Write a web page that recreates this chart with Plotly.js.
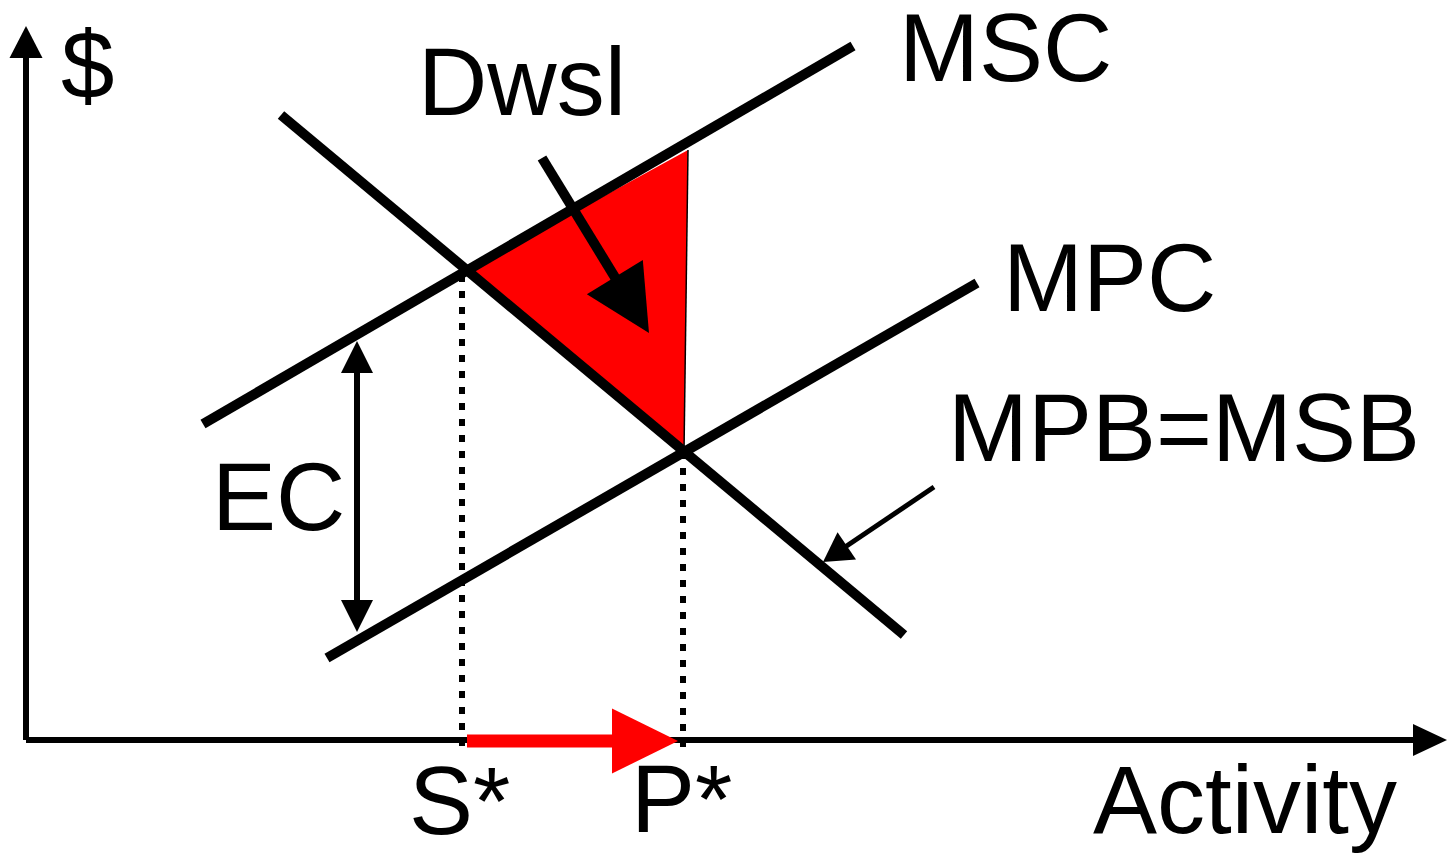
<!DOCTYPE html>
<html>
<head>
<meta charset="utf-8">
<script src="https://cdn.plot.ly/plotly-3.0.1.min.js"></script>
<style>
  html, body { margin: 0; padding: 0; background: #fff; }
  #chart { width: 1453px; height: 859px; }
</style>
</head>
<body>
<div id="chart"></div>
<script>
// curve endpoints (origin = axis corner, y up)
const mscX = [177, 827];
const mscY = [316, 694];
const mpcX = [301, 951];
const mpcY = [82, 457];
const mpbX = [255, 878];
const mpbY = [625, 105];

// deadweight-loss triangle
const dwlX = [441, 662, 658];
const dwlY = [469, 590, 288];

// equilibria on the activity axis
const sStarX = 436, sStarY = 465;
const pStarX = 657, pStarY = 288;

// arrows: [tailX, tailY, tipX, tipY]
const yAxisArrow = [0, 0, 0, 714];
const xAxisArrow = [0, 0, 1421, 0];
const shiftArrow = [441, -1, 652, -1];
const dwslArrow = [516, 582, 623, 407];
const ecArrow = [331, 254, 331, 399];   // double headed, tips at 399 and 108
const ecLow = 108;
const mpbArrow = [908, 253, 797, 178];

const labels = ['$', 'MSC', 'Dwsl', 'MPC', 'MPB=MSB', 'EC', 'S*', 'P*', 'Activity'];
const labelX = [61, 979.5, 495.5, 1083, 1158, 252.5, 433, 655, 1219];
const labelY = [676, 693, 659, 463, 313, 244, -60, -58, -59];

const BLACK = '#000';
const RED = '#ff0000';

function line(x, y, width, color, dash) {
  return {
    x: x, y: y, type: 'scatter', mode: 'lines',
    line: { color: color, width: width, dash: dash || 'solid' },
    hoverinfo: 'skip', showlegend: false,
  };
}

function tri(x, y, color) {
  return {
    x: x.concat(x[0]), y: y.concat(y[0]), type: 'scatter', mode: 'lines',
    fill: 'toself', fillcolor: color, line: { width: 0, color: color },
    hoverinfo: 'skip', showlegend: false,
  };
}

// shaft + triangular head, head length / half width in px
function arrow(a, width, color, headLen, headHalf) {
  const [x0, y0, x1, y1] = a;
  const dx = x1 - x0, dy = y1 - y0;
  const L = Math.hypot(dx, dy);
  const ux = dx / L, uy = dy / L;
  const bx = x1 - ux * headLen, by = y1 - uy * headLen;
  const shaftEnd = [bx + ux * 2, by + uy * 2];
  return [
    line([x0, shaftEnd[0]], [y0, shaftEnd[1]], width, color),
    tri([bx - uy * headHalf, x1, bx + uy * headHalf],
        [by + ux * headHalf, y1, by - ux * headHalf], color),
  ];
}

const traces = [
  tri(dwlX, dwlY, RED),
  line([dwlX[1], dwlX[2]], [dwlY[1], dwlY[2]], 1.5, BLACK),
  line([sStarX, sStarX], [sStarY, -6], 6, BLACK, '7px,9px'),
  line([pStarX, pStarX], [pStarY, -12], 6, BLACK, '7px,9px'),
  ...arrow(yAxisArrow, 6, BLACK, 32, 16.5),
  ...arrow(xAxisArrow, 6, BLACK, 34, 16),
  line(mscX, mscY, 10, BLACK),
  line(mpcX, mpcY, 10, BLACK),
  line(mpbX, mpbY, 10, BLACK),
  ...arrow(shiftArrow, 13, RED, 66, 32.5),
  ...arrow(dwslArrow, 10, BLACK, 65.5, 32.8),
  ...arrow(ecArrow, 6, BLACK, 32, 16),
  ...arrow([ecArrow[0], ecArrow[1], ecArrow[2], ecLow], 6, BLACK, 32, 16),
  ...arrow(mpbArrow, 5, BLACK, 28.7, 16.5),
];

const annotations = labels.map((t, i) => ({
  text: t, x: labelX[i], y: labelY[i], xref: 'x', yref: 'y',
  showarrow: false, xanchor: 'center', yanchor: 'middle', borderpad: 0,
  font: { family: 'Liberation Sans, Arial, sans-serif', size: 96, color: BLACK },
}));

Plotly.newPlot('chart', traces, {
  width: 1453, height: 859,
  margin: { l: 0, r: 0, t: 0, b: 0 },
  paper_bgcolor: '#fff', plot_bgcolor: '#fff',
  xaxis: { range: [-26, 1427], visible: false, fixedrange: true },
  yaxis: { range: [-119, 740], visible: false, fixedrange: true },
  showlegend: false,
  annotations: annotations,
}, { displayModeBar: false, staticPlot: true });
</script>
</body>
</html>
